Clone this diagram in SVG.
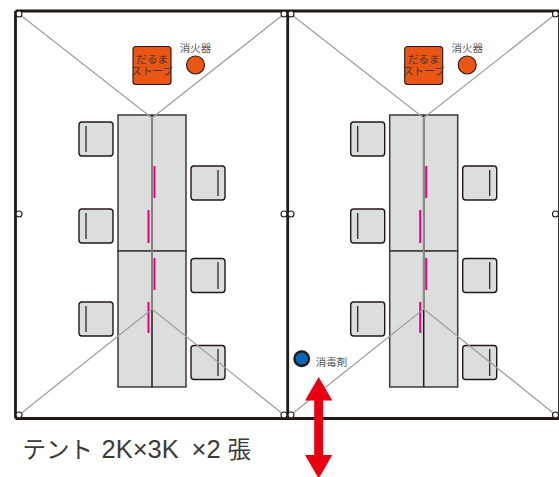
<svg xmlns="http://www.w3.org/2000/svg" width="559" height="477" viewBox="0 0 559 477">
<style>
.frame{fill:none;stroke:#231815;stroke-width:2.800}
.ring{fill:#fff;stroke:#231815;stroke-width:1.100}
.guy{fill:none;stroke:#a0a0a0;stroke-width:1.300}
.table{fill:#dcdddd;stroke:#3e3a39;stroke-width:1.500}
.seat{fill:#dcdddd;stroke:#231815;stroke-width:1.400}
.back{stroke:#231815;stroke-width:1.200}
.pink{stroke:#e6007e;stroke-width:2;fill:none}
.orange{fill:#ea5514;stroke:#231815;stroke-width:1.100}
.t{font-family:"Noto Sans CJK JP","Noto Sans",sans-serif;fill:#595757;font-size:10.500px;text-anchor:middle}
.s{fill:#3e3a39;font-size:10.700px}
.cj{font-family:"Noto Sans CJK JP","Noto Sans",sans-serif;font-size:23.500px;font-weight:400;fill:#3e3a39}
.la{font-family:"Liberation Sans",Arial,sans-serif;font-size:25.500px;fill:#3e3a39}
</style>
<defs>
<g id="tent">
<g class="tables">
<rect class="table" x="118" y="115" width="68" height="136"/>
<rect class="table" x="118" y="251" width="68" height="136"/>
<line x1="152" y1="115" x2="152" y2="387" stroke="#231815" stroke-width="1.500"/>
<line x1="152" y1="118" x2="152" y2="309" stroke="#8c8c8c" stroke-width="1.700"/>
<path class="pink" d="M154.500 166V198M148.500 210V243M154.500 258V290M148.500 302V333"/>
</g>
<g class="chairs">
<rect class="seat" x="79" y="122" width="34" height="34" rx="3"/><line class="back" x1="86" y1="126" x2="86" y2="152"/>
<rect class="seat" x="79" y="209" width="34" height="34" rx="3"/><line class="back" x1="86" y1="213" x2="86" y2="239"/>
<rect class="seat" x="79" y="302" width="34" height="34" rx="3"/><line class="back" x1="86" y1="306" x2="86" y2="332"/>
<rect class="seat" x="191" y="166" width="34" height="34" rx="3"/><line class="back" x1="218" y1="170" x2="218" y2="196"/>
<rect class="seat" x="191" y="258.500" width="34" height="34" rx="3"/><line class="back" x1="218" y1="262" x2="218" y2="289"/>
<rect class="seat" x="191" y="345.500" width="34" height="34" rx="3"/><line class="back" x1="218" y1="349" x2="218" y2="376"/>
</g>
<path class="guy" d="M19 14L152 118L284 14M19 415L152 309L284 415"/>
<g class="stove">
<rect class="orange" x="133" y="46.500" width="38" height="38" rx="3"/>
<text class="t s" x="152" y="62.500">だるま</text>
<text class="t s" x="152" y="74.500">ストーブ</text>
</g>
<g class="extinguisher">
<circle class="orange" cx="195.500" cy="65" r="9"/>
<text class="t" x="195.500" y="52">消火器</text>
</g>
</g>
</defs>
<g id="tent-left">
<use href="#tent"/>
</g>
<g id="tent-right">
<use href="#tent" transform="translate(271.700 0)"/>
</g>
<g id="connectors">
<path class="frame" d="M15.500 11H559M15.500 418.500H559M15.500 11V418.500M287.700 11V418.500"/>
<line x1="558.500" y1="11" x2="558.500" y2="418.500" stroke="#3e3a39" stroke-width="1"/>
</g>
<g id="rings">
<circle class="ring" cx="19" cy="14" r="3"/><circle class="ring" cx="19" cy="214" r="3"/><circle class="ring" cx="19" cy="415" r="3"/>
<circle class="ring" cx="284" cy="14" r="3"/><circle class="ring" cx="284" cy="214" r="3"/><circle class="ring" cx="284" cy="415" r="3"/>
<circle class="ring" cx="291" cy="14" r="3"/><circle class="ring" cx="291" cy="214" r="3"/><circle class="ring" cx="291" cy="415" r="3"/>
<circle class="ring" cx="555.500" cy="14" r="3"/><circle class="ring" cx="555.500" cy="214" r="3"/><circle class="ring" cx="555.500" cy="415" r="3"/>
</g>
<g id="disinfectant">
<circle cx="301.700" cy="358.700" r="7.300" fill="#0068b7" stroke="#231815" stroke-width="2.400"/>
<text class="t" x="331.500" y="366">消毒剤</text>
</g>
<g id="door-arrow">
<path d="M318.700 377L332.300 400.500H323.200V455H332.300L318.700 478.500L305 455H314.200V400.500H305Z" fill="#e60012"/>
</g>
<g id="caption">
<text y="458"><tspan class="cj" x="22.500">テント</tspan><tspan class="la" x="101.500">2K×3K</tspan><tspan class="la" x="191.500">×2</tspan><tspan class="cj" x="227.500">張</tspan></text>
</g>
</svg>
